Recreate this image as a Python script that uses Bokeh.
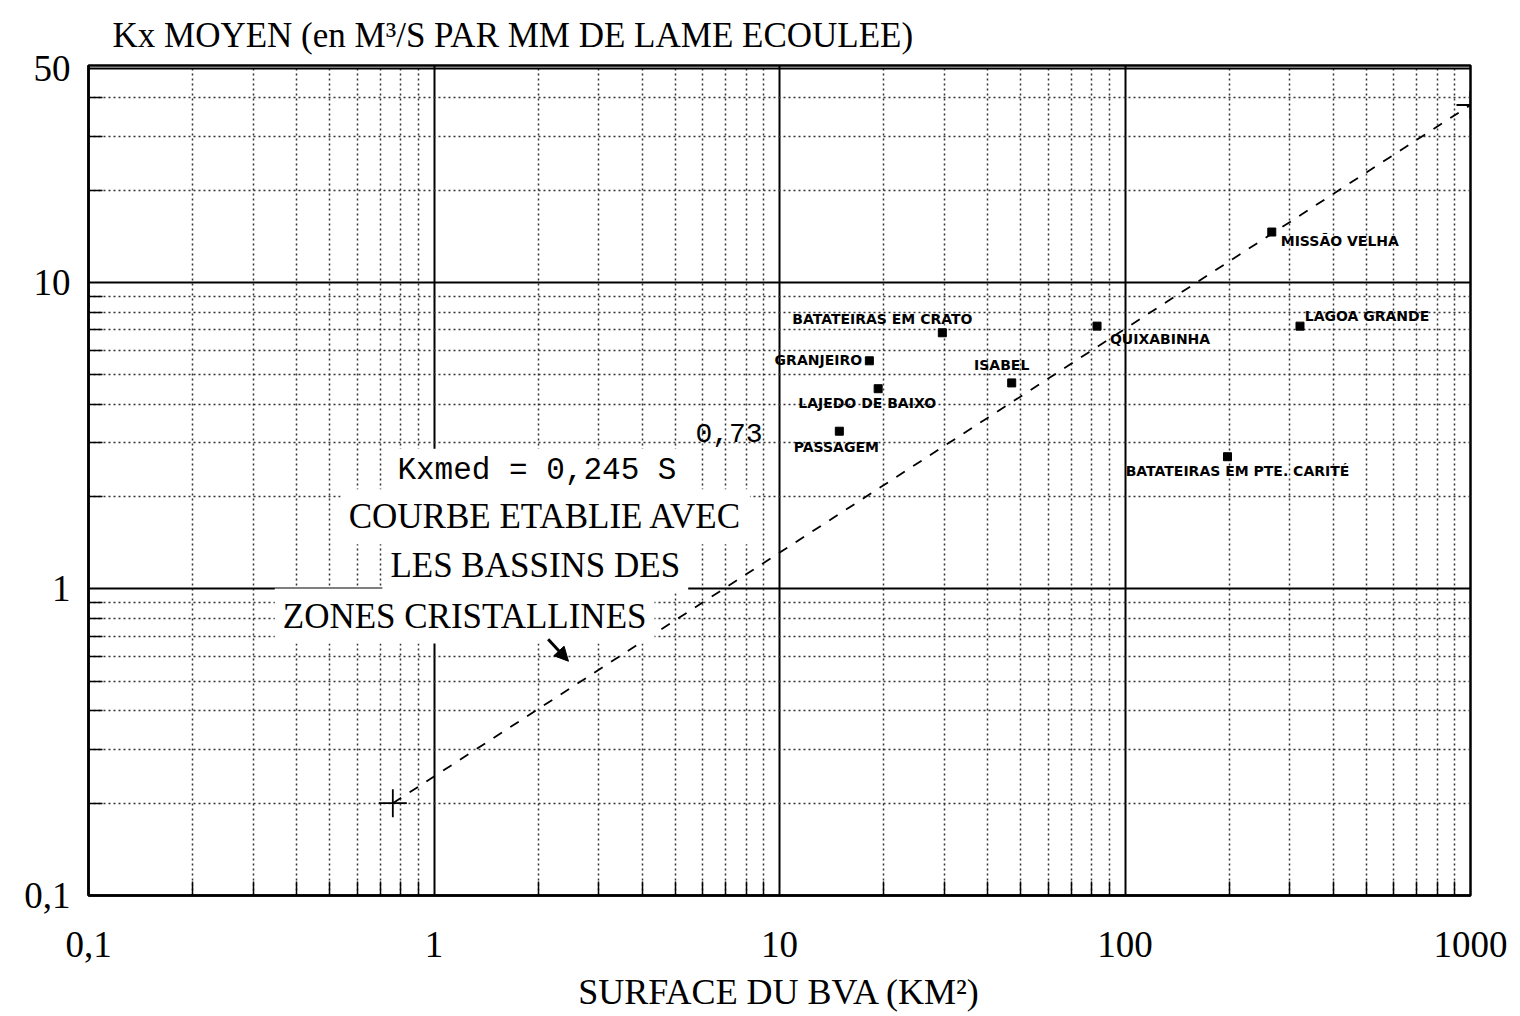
from bokeh.plotting import figure
from bokeh.models import ColumnDataSource, FixedTicker, Label, Arrow, NormalHead
from bokeh.core.properties import value
from bokeh.embed import file_html
from bokeh.resources import INLINE

# ---- data ----
stations = ["MISSÃO VELHA", "LAGOA GRANDE", "QUIXABINHA", "BATATEIRAS EM CRATO",
            "GRANJEIRO", "LAJEDO DE BAIXO", "ISABEL", "PASSAGEM",
            "BATATEIRAS EM PTE. CARITÉ"]
surface_km2 = [266, 321, 83, 29.6, 18.2, 19.3, 47, 14.9, 198]
kx_moyen = [14.6, 7.2, 7.2, 6.85, 5.55, 4.5, 4.7, 3.27, 2.7]

# fitted curve Kxmed = 0,245 S^0,73 (end points as drawn)
fit_surface = [0.76, 1000]
fit_kx = [0.2, 37.9]

x_major = [0.1, 1, 10, 100, 1000]
x_major_labels = ["0,1", "1", "10", "100", "1000"]
y_major = [0.1, 1, 10, 50]
y_major_labels = ["0,1", "1", "10", "50"]

x_minor = [round(m * 10 ** e, 4) for e in range(-1, 3) for m in range(2, 10)]
y_minor = [round(m * 10 ** e, 4) for e in range(-1, 1) for m in range(2, 10)] + [20, 30, 40]

# label placement (screen px, relative to each point; text centred)
label_dx = [68, 67, 63, -60, -51, -11, -10, -3, 10]
label_dy = [9, -10, 13, -14, -1, 14, -18, 16, 14]

p = figure(width=1510, height=1014, x_axis_type="log", y_axis_type="log",
           x_range=(0.1, 1000), y_range=(0.1, 51),
           output_backend="svg", toolbar_location=None,
           min_border_left=88, min_border_right=40, min_border_top=65,
           min_border_bottom=113)

p.background_fill_color = "white"
p.border_fill_color = "white"
p.outline_line_color = "black"
p.outline_line_width = 2.5

p.title.text = "Kx MOYEN (en M³/S PAR MM DE LAME ECOULEE)"
p.title.text_font = "Liberation Serif"
p.title.text_font_size = "35px"
p.title.text_font_style = "normal"
p.title.text_color = "black"
p.title.offset = 24
p.title.standoff = 22

serif = "Liberation Serif"
for ax, ticks, minor, labels in ((p.xaxis, x_major, x_minor, x_major_labels),
                                 (p.yaxis, y_major, y_minor, y_major_labels)):
    ax.ticker = FixedTicker(ticks=ticks, minor_ticks=minor)
    ax.major_label_overrides = {t: l for t, l in zip(ticks, labels)}
    ax.axis_line_color = "black"
    ax.axis_line_width = 2.5
    ax.major_tick_in = 0
    ax.major_tick_out = 0
    ax.minor_tick_in = 14
    ax.minor_tick_out = 0
    ax.minor_tick_line_color = "black"
    ax.minor_tick_line_width = 1.5
    ax.major_label_text_font = serif
    ax.major_label_text_font_size = "37px"
    ax.major_label_text_color = "black"

p.xaxis.major_label_standoff = 36
p.yaxis.major_label_standoff = 18
p.xaxis.axis_label = "SURFACE DU BVA (KM²)"
p.xaxis.axis_label_text_font = serif
p.xaxis.axis_label_text_font_size = "36px"
p.xaxis.axis_label_text_font_style = "normal"
p.xaxis.axis_label_text_color = "black"
p.xaxis.axis_label_standoff = 12

for g in (p.xgrid, p.ygrid):
    g.grid_line_color = "black"
    g.grid_line_width = 2
    g.minor_grid_line_color = "#333333"
    g.minor_grid_line_width = 1.5
    g.minor_grid_line_dash = "2 3"

# text annotations with white background (they hide the grid)
ann_font = "Liberation Mono"
p.add_layout(Label(x=5.71, y=3.22, text="0,73", text_font=ann_font,
                   text_font_size="28px", text_baseline="middle", text_color="black"))
p.add_layout(Label(x=0.763, y=2.44, text="Kxmed = 0,245 S", text_font=ann_font,
                   text_font_size="31px", text_baseline="middle", text_color="black",
                   background_fill_color="white", padding=4))
for tx, xx, yy in (("COURBE ETABLIE AVEC", 0.537, 1.72),
                   ("LES BASSINS DES", 0.709, 1.19),
                   ("ZONES CRISTALLINES", 0.346, 0.816)):
    p.add_layout(Label(x=xx, y=yy, text=tx, text_font=serif, text_font_size="35px",
                       text_baseline="middle", text_color="black",
                       background_fill_color="white", padding=8))

# fitted curve
p.line(fit_surface, fit_kx, line_color="black", line_width=1.8, line_dash="10 10")
p.scatter(fit_surface, fit_kx, marker="cross", size=28, line_color="black", line_width=1.8)

p.add_layout(Arrow(end=NormalHead(size=14, fill_color="black", line_color="black"),
                   x_start=2.14, y_start=0.685, x_end=2.45, y_end=0.581,
                   line_color="black", line_width=3))

# stations
src = ColumnDataSource(dict(x=surface_km2, y=kx_moyen, name=stations,
                            dx=label_dx, dy=label_dy))
p.scatter("x", "y", source=src, marker="square", size=8, color="black")
p.text("x", "y", text="name", source=src, x_offset="dx", y_offset="dy",
       text_font=value("DejaVu Sans"), text_font_style="bold", text_font_size="14px",
       text_align="center", text_baseline="middle", text_color="black")

open("out.html", "w").write(file_html(p, INLINE))
